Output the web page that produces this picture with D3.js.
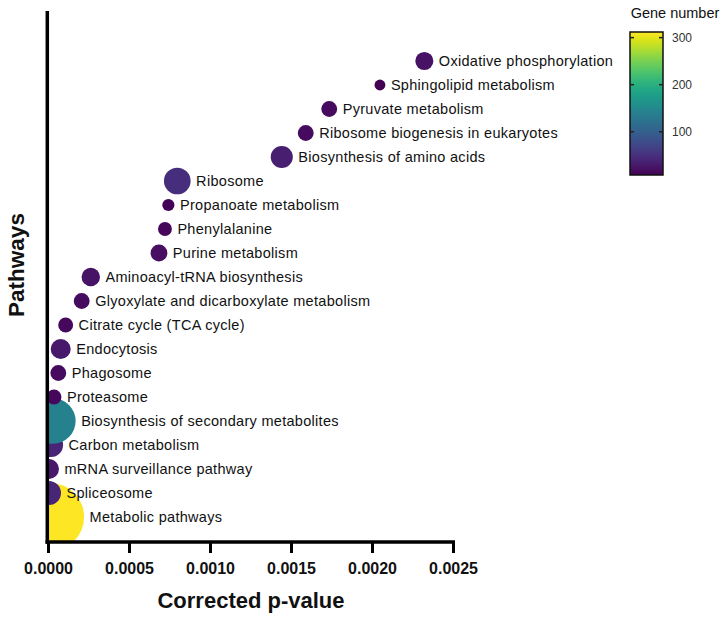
<!DOCTYPE html>
<html><head><meta charset="utf-8">
<script src="https://cdn.jsdelivr.net/npm/d3@7"></script>
<style>body{margin:0;background:#fff}svg{display:block}</style>
</head><body>
<svg id="c" width="726" height="620"></svg>
<script>
// Data (bottom to top order)
const pathways = ["Metabolic pathways","Spliceosome","mRNA surveillance pathway","Carbon metabolism","Biosynthesis of secondary metabolites","Proteasome","Phagosome","Endocytosis","Citrate cycle (TCA cycle)","Glyoxylate and dicarboxylate metabolism","Aminoacyl-tRNA biosynthesis","Purine metabolism","Phenylalanine","Propanoate metabolism","Ribosome","Biosynthesis of amino acids","Ribosome biogenesis in eukaryotes","Pyruvate metabolism","Sphingolipid metabolism","Oxidative phosphorylation"];
const pvalues = [0.000013,0.000006,0.000006,0.000019,0.000030,0.000037,0.0000636,0.0000784,0.000109,0.000208,0.000264,0.000685,0.000722,0.000743,0.000798,0.001443,0.001591,0.001736,0.002049,0.002323];
const geneNumbers = [312,39,27,39,140,15,17,27,15,17,23,19,13,10,48,33,17,17,8,22];
const xTicks = [0,0.0005,0.0010,0.0015,0.0020,0.0025];
const colorTicks = [100,200,300];
const geneRange = [8,312];

const svg = d3.select("#c");
const font = "'Liberation Sans', Arial, sans-serif";

const x = d3.scaleLinear().domain([0,0.0025]).range([48,453]);
const y = d3.scalePoint().domain(pathways).range([517,61]);
const r = d3.scaleSqrt().domain([0,312]).range([0,34]);
const color = d3.scaleSequential(d3.interpolateViridis).domain(geneRange);

svg.append("defs").append("clipPath").attr("id","plotclip")
  .append("rect").attr("x",48.5).attr("y",0).attr("width",420).attr("height",541);

const data = pathways.map((p,i)=>({p, v:pvalues[i], n:geneNumbers[i]}));

const g = svg.append("g").attr("clip-path","url(#plotclip)");
g.selectAll("circle").data(data).join("circle")
  .attr("cx",d=>x(d.v)).attr("cy",d=>y(d.p)).attr("r",d=>r(d.n))
  .attr("fill",d=>color(d.n));

svg.append("g").selectAll("text").data(data).join("text")
  .attr("x",d=>x(d.v)+r(d.n)+5.5).attr("y",d=>y(d.p))
  .attr("dy","0.35em")
  .attr("font-family",font).attr("font-size",14.5).attr("fill","#111")
  .attr("letter-spacing","0.3px")
  .text(d=>d.p);

// X axis
const xAxis = svg.append("g").attr("transform","translate(0,542)")
  .call(d3.axisBottom(x).tickValues(xTicks).tickFormat(d3.format(".4f")).tickSize(11).tickSizeOuter(0));
xAxis.select(".domain").attr("stroke","#000").attr("stroke-width",3.5).attr("d","M45.5,0H455");
xAxis.selectAll(".tick line").attr("stroke","#000").attr("stroke-width",3);
xAxis.selectAll(".tick text").attr("font-family",font).attr("font-size",16).attr("font-weight","bold")
  .attr("fill","#111").attr("y",32).attr("dy",0);

// Y axis line
svg.append("line").attr("x1",47.3).attr("x2",47.3).attr("y1",11).attr("y2",543.7)
  .attr("stroke","#000").attr("stroke-width",3.5);

// Axis titles
svg.append("text").attr("x",251).attr("y",608).attr("text-anchor","middle")
  .attr("font-family",font).attr("font-size",22).attr("font-weight","bold").attr("fill","#111")
  .text("Corrected p-value");
svg.append("text").attr("transform","translate(24,265) rotate(-90)").attr("text-anchor","middle")
  .attr("font-family",font).attr("font-size",22.5).attr("font-weight","bold").attr("fill","#111")
  .text("Pathways");

// Color bar
const cbX = 630, cbW = 33, cbTop = 32, cbBot = 175;
const cy = d3.scaleLinear().domain(geneRange).range([cbBot,cbTop]);
const grad = svg.select("defs").append("linearGradient").attr("id","vgrad")
  .attr("x1",0).attr("y1",1).attr("x2",0).attr("y2",0);
d3.range(0,1.0001,0.05).forEach(t=>{
  grad.append("stop").attr("offset",t).attr("stop-color",d3.interpolateViridis(t));
});
svg.append("rect").attr("x",cbX).attr("y",cbTop).attr("width",cbW).attr("height",cbBot-cbTop)
  .attr("fill","url(#vgrad)").attr("stroke","#111").attr("stroke-width",1.5);
const cb = svg.append("g");
cb.selectAll("line.l").data(colorTicks).join("line").attr("class","l")
  .attr("x1",cbX).attr("x2",cbX+4).attr("y1",d=>cy(d)).attr("y2",d=>cy(d))
  .attr("stroke","#222").attr("stroke-width",1.5);
cb.selectAll("line.r").data(colorTicks).join("line").attr("class","r")
  .attr("x1",cbX+cbW-4).attr("x2",cbX+cbW).attr("y1",d=>cy(d)).attr("y2",d=>cy(d))
  .attr("stroke","#222").attr("stroke-width",1.5);
cb.selectAll("text").data(colorTicks).join("text")
  .attr("x",cbX+cbW+9).attr("y",d=>cy(d)).attr("dy","0.35em")
  .attr("font-family",font).attr("font-size",12).attr("fill","#333").text(d=>d);
svg.append("text").attr("x",675).attr("y",18).attr("text-anchor","middle")
  .attr("font-family",font).attr("font-size",14.5).attr("fill","#111")
  .text("Gene number");
</script>
</body></html>
